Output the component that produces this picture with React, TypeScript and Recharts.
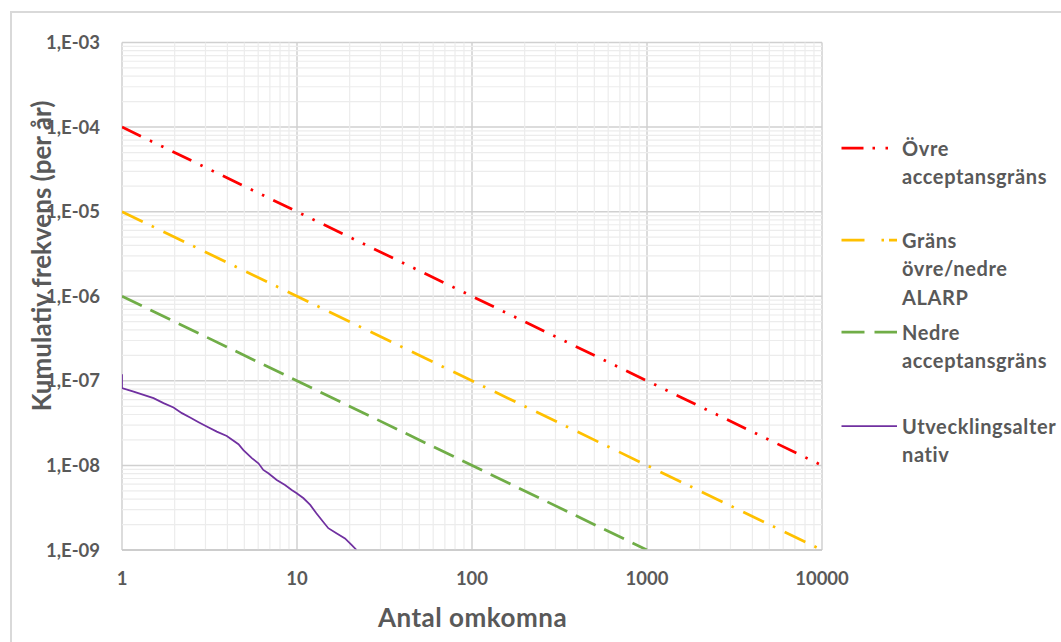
import React from 'react';
import { LineChart, Line, XAxis, YAxis, CartesianGrid, ReferenceLine } from 'recharts';

const X_TICKS = [1, 10, 100, 1000, 10000];
const Y_TICKS = [1e-9, 1e-8, 1e-7, 1e-6, 1e-5, 1e-4, 1e-3];
const MINOR_STEPS = [2, 3, 4, 5, 6, 7, 8, 9];

const upperX = [1, 10000];
const upperY = [1e-4, 1e-8];
const alarpX = [1, 10000];
const alarpY = [1e-5, 1e-9];
const lowerX = [1, 1000];
const lowerY = [1e-6, 1e-9];
const altX = [1, 1, 1.165, 1.328, 1.514, 1.727, 1.969, 2.2, 2.45, 2.74, 3.05, 3.48, 3.97, 4.63, 4.94, 5.52, 6.02, 6.42, 6.86, 7.66, 8.54, 9.33, 9.96, 10.9, 11.9, 12.9, 14.1, 15.1, 16.8, 18.8, 20.5, 21.9];
const altY = [1.2e-7, 8.2e-8, 7.47e-8, 6.83e-8, 6.24e-8, 5.45e-8, 4.83e-8, 4.15e-8, 3.68e-8, 3.24e-8, 2.88e-8, 2.51e-8, 2.23e-8, 1.78e-8, 1.52e-8, 1.22e-8, 1.06e-8, 8.85e-9, 8.09e-9, 6.74e-9, 5.88e-9, 5.13e-9, 4.69e-9, 4.09e-9, 3.41e-9, 2.72e-9, 2.16e-9, 1.81e-9, 1.58e-9, 1.37e-9, 1.15e-9, 1.0e-9];

const SERIES_NAMES = ['Övre acceptansgräns', 'Gräns övre/nedre ALARP', 'Nedre acceptansgräns', 'Utvecklingsalternativ'];
const LEGEND_LINES = [['Övre', 'acceptansgräns'], ['Gräns', 'övre/nedre', 'ALARP'], ['Nedre', 'acceptansgräns'], ['Utvecklingsalter', 'nativ']];
const X_TITLE = 'Antal omkomna';
const Y_TITLE = 'Kumulativ frekvens (per år)';

const zip = (xs: number[], ys: number[]) => xs.map((x, i) => ({ x, y: ys[i] }));

const minorX: number[] = [];
for (let k = 0; k < X_TICKS.length - 1; k++) MINOR_STEPS.forEach((s) => minorX.push(X_TICKS[k] * s));
const minorY: number[] = [];
for (let k = 0; k < Y_TICKS.length - 1; k++) MINOR_STEPS.forEach((s) => minorY.push(Y_TICKS[k] * s));

const FONT = "Lato, 'Open Sans', sans-serif";
const TEXT = '#595959';

const styles = [
  { color: '#FF0000', dash: '21 10 2.5 10 2.5 10', legendDash: '22 9 2.5 10.5 2.5 20', width: 2.75 },
  { color: '#FFC000', dash: '23 10 2.5 10.5', legendDash: '23 17 2.5 5', width: 2.75 },
  { color: '#70AD47', dash: '22 9.5', legendDash: '23 10', width: 2.75 },
  { color: '#7030A0', dash: undefined, legendDash: undefined, width: 1.75 },
];

const fmtY = (v: number) => {
  const e = Math.round(-Math.log10(v));
  return '1,E-' + (e < 10 ? '0' + e : String(e));
};

export default function App() {
  const series = [zip(upperX, upperY), zip(alarpX, alarpY), zip(lowerX, lowerY), zip(altX, altY)];
  const legendY = [148, 240, 332, 426];
  return (
    <div style={{ position: 'absolute', left: 0, top: 0, width: 1061, height: 642, background: '#fff', overflow: 'hidden', fontFamily: FONT }}>
      <div style={{ position: 'absolute', left: 10, top: 11, width: 1100, height: 700, borderTop: '2px solid #d9d9d9', borderLeft: '2px solid #d9d9d9', boxSizing: 'border-box' }} />
      <div
        style={{
          position: 'absolute',
          left: 41,
          top: 256,
          transform: 'translate(-50%, -50%) rotate(-90deg)',
          whiteSpace: 'nowrap',
          fontSize: 26,
          fontWeight: 700,
          color: TEXT,
          lineHeight: 1,
        }}
      >
        {Y_TITLE}
      </div>
      <div style={{ position: 'absolute', left: 0, top: 0 }}>
        <LineChart width={1061} height={642} margin={{ top: 42.5, right: 239, bottom: 0, left: 0 }}>
          {minorX.map((v) => (
            <ReferenceLine key={'mx' + v} x={v} stroke="#ececec" strokeWidth={1.2} />
          ))}
          {minorY.map((v) => (
            <ReferenceLine key={'my' + v} y={v} stroke="#ececec" strokeWidth={1.2} />
          ))}
          <CartesianGrid stroke="#d0d0d0" strokeWidth={1.5} />
          <XAxis
            type="number"
            dataKey="x"
            scale="log"
            domain={[1, 10000]}
            ticks={X_TICKS}
            allowDataOverflow
            height={92}
            tickLine={false}
            tickSize={0}
            tickMargin={22}
            axisLine={{ stroke: '#c8c8c8', strokeWidth: 1.6 }}
            tick={{ fill: TEXT, fontSize: 18.5, fontWeight: 700, fontFamily: FONT }}
          />
          <YAxis
            type="number"
            dataKey="y"
            scale="log"
            domain={[1e-9, 1e-3]}
            ticks={Y_TICKS}
            allowDataOverflow
            width={122}
            tickLine={false}
            tickSize={0}
            tickMargin={22}
            tickFormatter={fmtY}
            axisLine={false}
            tick={{ fill: TEXT, fontSize: 18.5, fontWeight: 700, fontFamily: FONT }}
          />
          {series.map((d, i) => (
            <Line
              key={SERIES_NAMES[i]}
              name={SERIES_NAMES[i]}
              data={d}
              dataKey="y"
              type="linear"
              stroke={styles[i].color}
              strokeWidth={styles[i].width}
              strokeDasharray={styles[i].dash}
              strokeLinecap="butt"
              dot={false}
              activeDot={false}
              isAnimationActive={false}
            />
          ))}
        </LineChart>
      </div>
      <div
        style={{
          position: 'absolute',
          left: 472.5,
          top: 617,
          transform: 'translate(-50%, -50%)',
          whiteSpace: 'nowrap',
          fontSize: 26,
          letterSpacing: 0.5,
          fontWeight: 700,
          color: TEXT,
          lineHeight: 1,
        }}
      >
        {X_TITLE}
      </div>
      {LEGEND_LINES.map((lines, i) => (
        <div key={i} style={{ position: 'absolute', left: 0, top: legendY[i] }}>
          <svg style={{ position: 'absolute', left: 840, top: -3 }} width={60} height={6}>
            <line x1={1.5} y1={3} x2={57} y2={3} stroke={styles[i].color} strokeWidth={styles[i].width} strokeDasharray={styles[i].legendDash} />
          </svg>
          <div style={{ position: 'absolute', left: 902, top: -14.25, fontSize: 20, letterSpacing: 0.6, fontWeight: 700, color: TEXT, lineHeight: '28.5px', whiteSpace: 'nowrap' }}>
            {lines.map((l, j) => (
              <div key={j}>{l}</div>
            ))}
          </div>
        </div>
      ))}
    </div>
  );
}
